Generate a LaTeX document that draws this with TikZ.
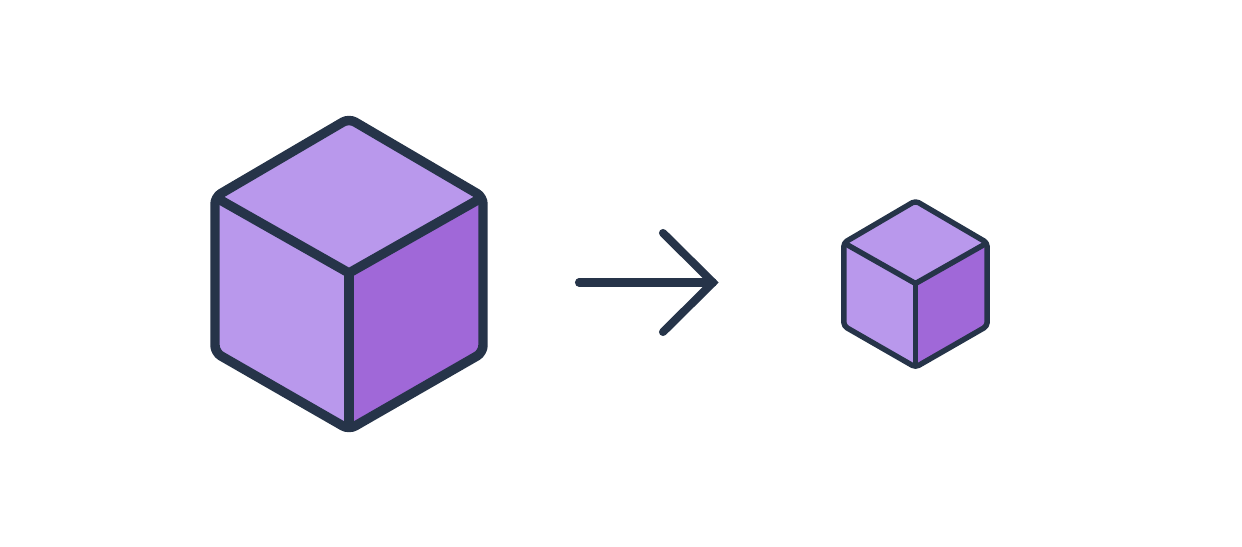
\documentclass[tikz,border=0pt]{standalone}
\usepackage{tikz}
\definecolor{cubelight}{HTML}{B998EC}
\definecolor{cubedark}{HTML}{A068D8}
\definecolor{cubeline}{HTML}{263449}
\tikzset{
    edgeline/.style={draw=cubeline, line join=round, line cap=round},
    arrowline/.style={draw=cubeline, line width=4.6pt, line cap=round, line join=miter}
}

\begin{document}
\begin{tikzpicture}[x=0.02cm, y=-0.02cm]
    \useasboundingbox (0, 0) rectangle (1242, 547);
    \foreach \cx/\cy/\s/\lw in {349/273/1/5.4, 915.5/283.5/0.535/3.1} {
        \pgfmathsetmacro{\r}{7*\s*0.567};
        \coordinate (mid) at (\cx, \cy);
        \coordinate (top) at (\cx, \cy-154.5*\s);
        \coordinate (bot) at (\cx, \cy+156.5*\s);
        \coordinate (tl) at (\cx-134*\s, \cy-76*\s);
        \coordinate (tr) at (\cx+134*\s, \cy-76*\s);
        \coordinate (bl) at (\cx-134*\s, \cy+79.5*\s);
        \coordinate (br) at (\cx+134*\s, \cy+79.5*\s);
        \coordinate (tlin) at (\cx-131*\s, \cy-74.3*\s);
        \coordinate (trin) at (\cx+131*\s, \cy-74.3*\s);
        \coordinate (botin) at (\cx, \cy+153*\s);
        \fill [cubelight, rounded corners=\r pt] (top) -- (tr) -- (br) -- (bot) -- (bl) -- (tl) -- cycle;
        \fill [cubedark, rounded corners=\r pt] (mid) -- (tr) -- (br) -- (bot) -- cycle;
        \draw [edgeline, line width=\lw pt, rounded corners=\r pt] (top) -- (tr) -- (br) -- (bot) -- (bl) -- (tl) -- cycle;
        \draw [edgeline, line width=\lw pt] (tlin) -- (mid) -- (trin);
        \draw [edgeline, line width=\lw pt] (mid) -- (botin);
    }
    \coordinate (tail) at (579, 282.5);
    \coordinate (tip) at (713, 282.5);
    \coordinate (barbup) at (663, 233);
    \coordinate (barbdown) at (663, 332);
    \draw [arrowline] (tail) -- (tip);
    \draw [arrowline] (barbup) -- (tip) -- (barbdown);
\end{tikzpicture}
\end{document}
